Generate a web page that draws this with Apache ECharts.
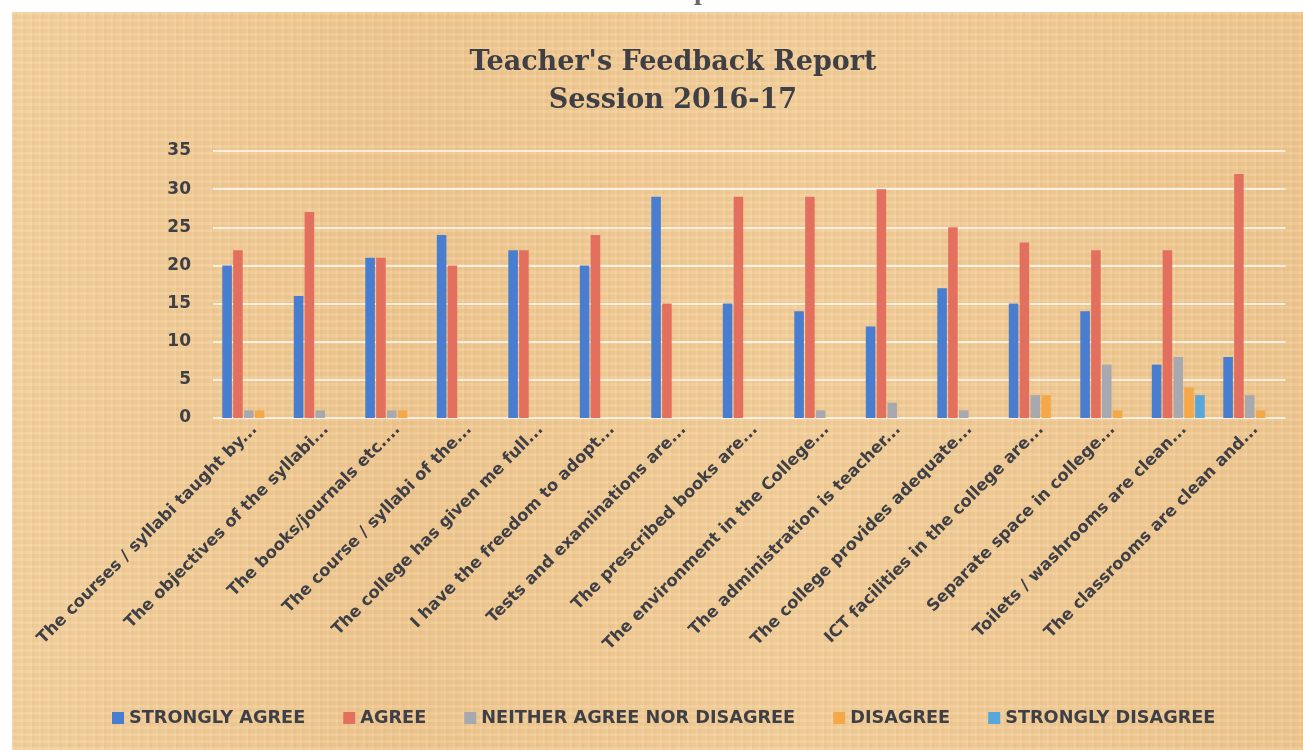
<!DOCTYPE html>
<html>
<head>
<meta charset="utf-8">
<script src="https://cdn.jsdelivr.net/npm/echarts@6/dist/echarts.min.js"></script>
<style>
  html, body { margin:0; padding:0; background:#ffffff; width:1303px; height:750px; overflow:hidden; }
  #paper {
    position:absolute; left:12px; top:12px; right:0; bottom:0;
    background:
      repeating-linear-gradient(90deg, rgba(255,245,220,0.10) 0 2px, rgba(190,140,80,0.05) 2px 5px, rgba(255,245,220,0) 5px 9px),
      repeating-linear-gradient(0deg, rgba(255,240,210,0.10) 0 3px, rgba(180,130,70,0.06) 3px 7px),
      linear-gradient(90deg, rgba(255,230,190,0.25), rgba(230,180,120,0.15) 30%, rgba(255,225,180,0.2) 60%, rgba(230,185,130,0.2)),
      #efc993;
  }
  #chart { position:absolute; left:0; top:0; width:1303px; height:750px; }
</style>
</head>
<body>
<div id="paper"></div>
<div id="chart"></div>
<script>
const categories = [
  "The courses / syllabi taught by...",
  "The objectives of the syllabi...",
  "The books/journals etc....",
  "The course / syllabi of the...",
  "The college has given me full...",
  "I have the freedom to adopt...",
  "Tests and examinations are...",
  "The prescribed books are...",
  "The environment in the College...",
  "The administration is teacher...",
  "The college provides adequate...",
  "ICT facilities in the college are...",
  "Separate space in college...",
  "Toilets / washrooms are clean...",
  "The classrooms are clean and..."
];
const stronglyAgree    = [20, 16, 21, 24, 22, 20, 29, 15, 14, 12, 17, 15, 14, 7, 8];
const agree            = [22, 27, 21, 20, 22, 24, 15, 29, 29, 30, 25, 23, 22, 22, 32];
const neither          = [1, 1, 1, 0, 0, 0, 0, 0, 1, 2, 1, 3, 7, 8, 3];
const disagree         = [1, 0, 1, 0, 0, 0, 0, 0, 0, 0, 0, 3, 1, 4, 1];
const stronglyDisagree = [0, 0, 0, 0, 0, 0, 0, 0, 0, 0, 0, 0, 0, 3, 0];
const seriesNames = ["STRONGLY AGREE", "AGREE", "NEITHER AGREE NOR DISAGREE", "DISAGREE", "STRONGLY DISAGREE"];
const yTicks = { min: 0, max: 35, interval: 5 };

const colors = ["#487dcf", "#e3705f", "#a7a9af", "#f4a84a", "#57a7dd"];
const seriesData = [stronglyAgree, agree, neither, disagree, stronglyDisagree];
const textColor = "#3f3f46";

const chart = echarts.init(document.getElementById('chart'), null, { renderer: 'canvas' });
chart.setOption({
  backgroundColor: 'transparent',
  animation: false,
  color: colors,
  title: [
    { text: "Teacher's Feedback Report", left: 668, top: 43, textAlign: 'center',
      textStyle: { fontFamily: 'DejaVu Serif', fontWeight: 'bold', fontSize: 27, color: textColor, lineHeight: 30 } },
    { text: "Session 2016-17", left: 668, top: 81, textAlign: 'center',
      textStyle: { fontFamily: 'DejaVu Serif', fontWeight: 'bold', fontSize: 27, color: textColor, lineHeight: 30 } }
  ],
  graphic: [
    { type: 'text', left: 415, top: -22, silent: true,
      style: { text: 'Teachers Feedback Responses', font: 'bold 28px "Liberation Serif"', fill: '#6a6a6a' } }
  ],
  grid: { left: 213, right: 17.5, top: 151, bottom: 332, containLabel: false },
  legend: {
    data: seriesNames,
    left: 112, top: 709, padding: 0,
    icon: 'rect', itemWidth: 12, itemHeight: 12, itemGap: 38,
    textStyle: { fontFamily: 'DejaVu Sans', fontWeight: 'bold', fontSize: 17.7, color: textColor }
  },
  xAxis: {
    type: 'category',
    data: categories,
    axisLine: { show: false },
    axisTick: { show: false },
    axisLabel: {
      interval: 0, rotate: 45, margin: 3,
      verticalAlign: 'top',
      fontFamily: 'DejaVu Sans', fontWeight: 'bold', fontSize: 16.5, color: textColor
    }
  },
  yAxis: {
    type: 'value',
    min: yTicks.min, max: yTicks.max, interval: yTicks.interval,
    axisLine: { show: false },
    axisTick: { show: false },
    axisLabel: { margin: 22, fontFamily: 'DejaVu Sans', fontWeight: 'bold', fontSize: 17, color: textColor },
    splitLine: { lineStyle: { color: 'rgba(255,255,255,0.7)', width: 2 } }
  },
  series: seriesNames.map((name, i) => ({
    name: name,
    type: 'bar',
    data: seriesData[i],
    barCategoryGap: '26%',
    barGap: '13%',
    itemStyle: { color: colors[i] }
  }))
});
</script>
</body>
</html>
